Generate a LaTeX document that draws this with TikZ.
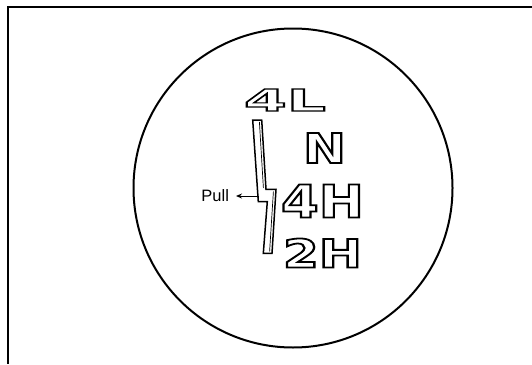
\documentclass[tikz,border=0pt]{standalone}
\usepackage{fontspec}
\usepackage{graphicx}
\newfontfamily\blockfont{DejaVu Sans}
\newfontfamily\pullfont{Liberation Sans}
% outlined (stroked) block letters: #1 width, #2 height, #3 font size, #4 stroke width, #5 text
\newcommand\blockword[5]{\resizebox{#1}{#2}{\blockfont\bfseries\fontsize{#3}{#3}\selectfont\special{pdf:literal direct 1 Tr #4 w}#5\special{pdf:literal direct 0 Tr}}}
\usetikzlibrary{arrows.meta}
\tikzset{
  frameline/.style={line width=2pt},
  knob/.style={line width=2pt},
  leverline/.style={line width=1.5pt, line join=miter},
  levershade/.style={line width=0.7pt},
  gear/.style={inner sep=0pt, outer sep=0pt},
  pullarrow/.style={line width=1pt, -{Stealth[length=6pt,width=5pt]}},
}
\begin{document}
\begin{tikzpicture}[x=1pt,y=-1pt]
\useasboundingbox (0,0) rectangle (532,364);
% frame (top and left edges only)
\coordinate (ftr) at (532,7);
\coordinate (ftl) at (7.5,7);
\coordinate (fbl) at (7.5,364);
\draw[frameline] (ftr) -- (ftl) -- (fbl);
% knob
\node[knob, draw, circle, minimum size=319pt, inner sep=0pt] (knob) at (293,188) {};
% gear labels
\node[gear] (g4L) at (285,100) {\blockword{82pt}{22pt}{30}{1.1}{4L}};
\node[gear] (gN)  at (324.5,148) {\blockword{43pt}{30pt}{41}{1.8}{N}};
\node[gear] (g4H) at (322.5,201) {\blockword{83pt}{33pt}{45}{1.8}{4H}};
\node[gear] (g2H) at (322.5,253) {\blockword{79pt}{29pt}{40}{1.8}{2H}};
% lever
\coordinate (l1) at (252.7,120);
\coordinate (l2) at (261.7,120);
\coordinate (l3) at (266,189.3);
\coordinate (l4) at (276,189.3);
\coordinate (l5) at (272,253.3);
\coordinate (l6) at (263.3,253.3);
\coordinate (l7) at (267.3,201.7);
\coordinate (l8) at (258.3,201.7);
\draw[leverline] (l1) -- (l2) -- (l3) -- (l4) -- (l5) -- (l6) -- (l7) -- (l8) -- cycle;
% inner shading lines of the lever
\coordinate (s1) at (259.4,122);
\coordinate (s2) at (263.4,188);
\coordinate (s3) at (273.4,191.5);
\coordinate (s4) at (269.6,251.5);
\draw[levershade] (s1) -- (s2);
\draw[levershade] (s3) -- (s4);
\coordinate (pullstart) at (259,196);
% pull label and arrow
\node[gear, font=\pullfont\fontsize{16.5}{16.5}\selectfont, anchor=east] (pull) at (229,196) {Pull};
\draw[pullarrow] (pullstart) -- (pull.east -| 236,0);
\end{tikzpicture}
\end{document}
